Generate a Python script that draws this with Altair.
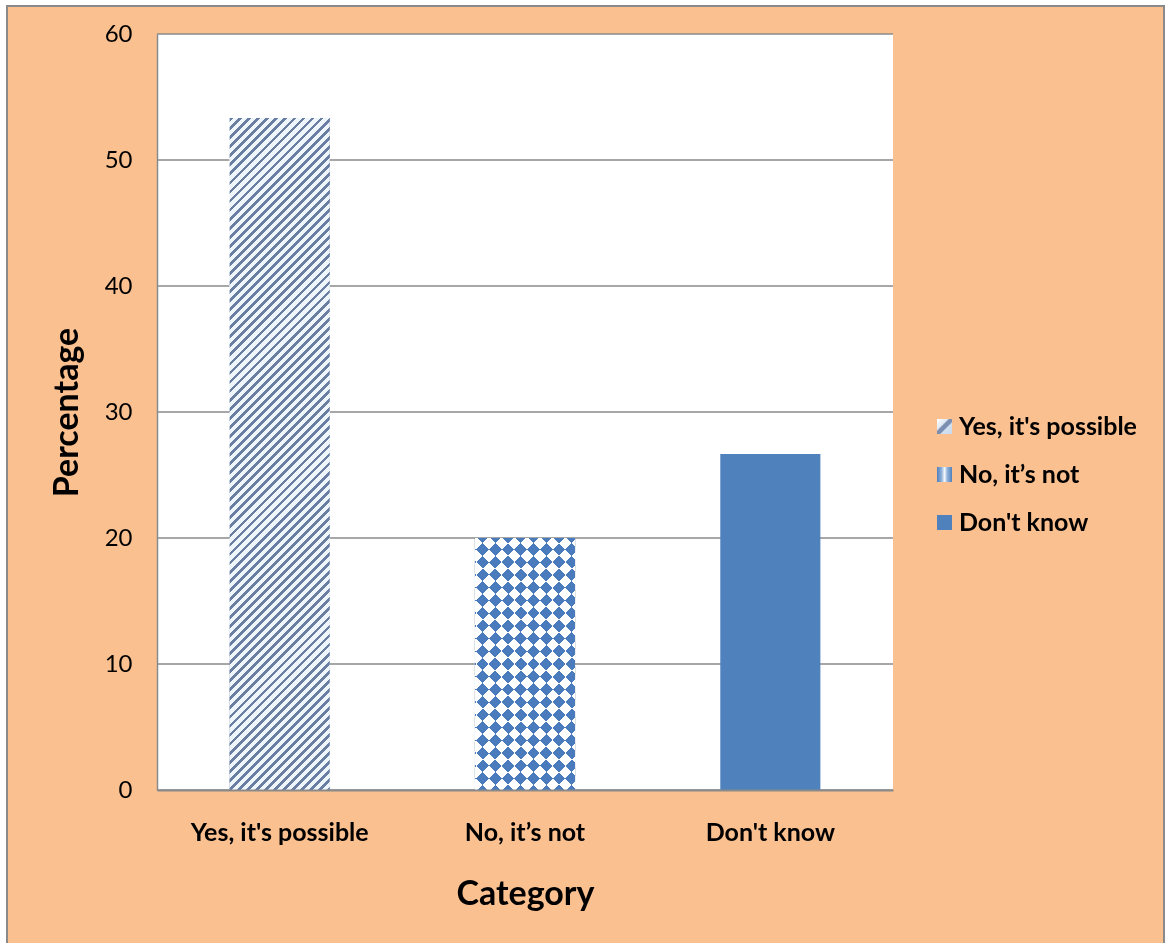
import json
import math

import altair as alt
import pandas as pd

# ---- data -------------------------------------------------------------
categories = ["Yes, it's possible", "No, it’s not", "Don't know"]
percentages = [53.33, 20.0, 26.67]
y_ticks = [0, 10, 20, 30, 40, 50, 60]

# ---- layout / style ---------------------------------------------------
PLOT_W, PLOT_H = 736, 756
Y_MAX = 60
PAD_INNER, PAD_OUTER = 0.592, 0.296

BLUE = "#4F81BD"
ORANGE = "#FAC090"
FRAME = "#8a8a8a"
GRID = "#8a8a8a"
FONT = "Lato"

# outer chart frame, in pixels relative to the plot origin
FRAME_L, FRAME_R, FRAME_T, FRAME_B = -151, 1008, -29, 909
BORDER = 2

df = pd.DataFrame({"category": categories, "value": percentages})
ticks_df = pd.DataFrame({"value": y_ticks})

n = len(categories)
step = PLOT_W / (n - PAD_INNER + 2 * PAD_OUTER)
bar_w = step * (1 - PAD_INNER)


def bar_h(v):
    return v * PLOT_H / Y_MAX


def stripes(w, h, period, dark, light, duty, direction="/"):
    """Linear gradient drawing 45-degree hatching over a w x h box."""
    c = (w + h) / (w * w + h * h)
    if direction == "/":
        x1, y1, x2, y2 = 0, 0, c * w, c * h
    else:
        x1, y1, x2, y2 = 0, 1, c * w, 1 - c * h
    span = (w + h) / math.sqrt(2)
    dt = period / span
    stops = []
    k = 0
    while k * dt < 1:
        a = k * dt
        b = min(a + duty * dt, 1)
        e = min(a + dt, 1)
        for off, col in ((a, dark), (b, dark), (b, light), (e, light)):
            stops.append({"offset": round(off, 5), "color": col})
        k += 1
    return {"gradient": "linear", "x1": x1, "y1": y1,
            "x2": round(x2, 5), "y2": round(y2, 5), "stops": stops}


def gradient_expr(g):
    return {"expr": json.dumps(g)}


# fills of the two patterned bars
yes_fill = stripes(bar_w, bar_h(percentages[0]), 6.4, "#6a7ea4", "#eef6fb", 0.42, "/")
no_w, no_h = bar_w, bar_h(percentages[1])
no_a = stripes(no_w, no_h, 18, "#000000", "#ffffff", 0.5, "/")
no_b = stripes(no_w, no_h, 18, "#000000", "#ffffff", 0.5, "\\")

# small swatches used by the legend
legend_yes = {"gradient": "linear", "x1": 0, "y1": 0, "x2": 1, "y2": 1,
              "stops": [{"offset": 0, "color": "#ffffff"},
                        {"offset": 0.36, "color": "#dfe9f3"},
                        {"offset": 0.42, "color": "#7d8fb0"},
                        {"offset": 0.58, "color": "#7d8fb0"},
                        {"offset": 0.64, "color": "#d2e2f1"},
                        {"offset": 1, "color": "#c7d9ee"}]}
legend_no = {"gradient": "linear", "x1": 0, "y1": 0, "x2": 1, "y2": 0,
             "stops": [{"offset": 0, "color": BLUE},
                       {"offset": 0.3, "color": "#8fb0d8"},
                       {"offset": 0.5, "color": "#f2f7fb"},
                       {"offset": 0.7, "color": "#8fb0d8"},
                       {"offset": 1, "color": BLUE}]}

x_axis = alt.Axis(
    title="Category", grid=False, ticks=False, tickSize=0, zindex=2,
    labelAngle=0, labelFont=FONT, labelFontSize=25, labelFontWeight="bold",
    labelColor="black", labelBaseline="alphabetic", labelPadding=50, labelLimit=0,
    domainColor=GRID, domainWidth=2,
    titleFont=FONT, titleFontSize=34, titleFontWeight="bold", titleColor="black",
    titleBaseline="alphabetic", titleX=PLOT_W / 2, titleY=114, titleAlign="center",
)
y_axis = alt.Axis(
    title="Percentage", values=y_ticks, grid=False, ticks=False, tickSize=0, zindex=2,
    labelFont=FONT, labelFontSize=24, labelColor="black", labelPadding=25,
    domainColor=GRID, domainWidth=1.5,
    titleFont=FONT, titleFontSize=34, titleFontWeight="bold", titleColor="black",
    titleBaseline="alphabetic", titleAngle=-90, titleX=-80, titleY=PLOT_H / 2,
    titleAlign="center",
)

y_scale = alt.Scale(domain=[0, Y_MAX])
x_scale = alt.Scale(domain=categories, paddingInner=PAD_INNER, paddingOuter=PAD_OUTER)

# every layer carries the same axis definitions so they merge into one
x_enc = alt.X("category:N", scale=x_scale, sort=categories, axis=x_axis)
y_enc = alt.Y("value:Q", scale=y_scale, axis=y_axis)

one_row = alt.Data(values=[{}])

frame_border = alt.Chart(one_row).mark_rect(color=FRAME).encode(
    x=alt.value(FRAME_L), x2=alt.value(FRAME_R),
    y=alt.value(FRAME_T), y2=alt.value(FRAME_B),
)
frame_fill = alt.Chart(one_row).mark_rect(color=ORANGE).encode(
    x=alt.value(FRAME_L + BORDER), x2=alt.value(FRAME_R - BORDER),
    y=alt.value(FRAME_T + BORDER), y2=alt.value(FRAME_B),
)
plot_bg = alt.Chart(one_row).mark_rect(color="white").encode(
    x=alt.value(0), x2=alt.value("width"), y=alt.value(0), y2=alt.value("height"),
)

grid = alt.Chart(ticks_df).mark_rule(color=GRID, strokeWidth=1.5).encode(
    y=y_enc, x=alt.value(0), x2=alt.value("width"),
)

bars = alt.Chart(df).mark_bar().encode(
    x=x_enc,
    y=y_enc,
    fill=alt.Fill(
        "category:N",
        scale=alt.Scale(domain=categories,
                        range=[gradient_expr(legend_yes), gradient_expr(legend_no), BLUE]),
        legend=alt.Legend(
            title=None, orient="none", legendX=775, legendY=380, padding=0,
            symbolType="square", symbolSize=225, symbolStrokeWidth=0,
            symbolOpacity=1, labelFont=FONT, labelFontSize=25,
            labelFontWeight="bold", labelColor="black", labelOffset=2,
            labelLimit=0, rowPadding=22, zindex=2,
        ),
    ),
)


def only(cat):
    return alt.FieldEqualPredicate(field="category", equal=cat)


yes_bar = alt.Chart(df).transform_filter(only(categories[0])).mark_bar(
    fill=yes_fill).encode(x=x_enc, y=y_enc)

# checkerboard: two crossing hatchings combined with a difference blend,
# then tinted blue with a screen blend
no_base = alt.Chart(df).transform_filter(only(categories[1])).mark_bar(
    fill=no_a).encode(x=x_enc, y=y_enc)
no_cross = alt.Chart(df).transform_filter(only(categories[1])).mark_bar(
    fill=no_b, blend="difference").encode(x=x_enc, y=y_enc)
no_tint = alt.Chart(df).transform_filter(only(categories[1])).mark_bar(
    fill="#4a7bbd", blend="screen").encode(x=x_enc, y=y_enc)

chart = (
    alt.layer(frame_border, frame_fill, plot_bg, grid, bars, yes_bar,
              no_base, no_cross, no_tint)
    .properties(
        width=PLOT_W, height=PLOT_H, background="white",
        padding={"left": 6, "top": 5, "right": 1, "bottom": 0},
    )
    .configure_view(strokeWidth=0)
)

chart.save("out.html", embed_options={"renderer": "svg", "actions": False})
